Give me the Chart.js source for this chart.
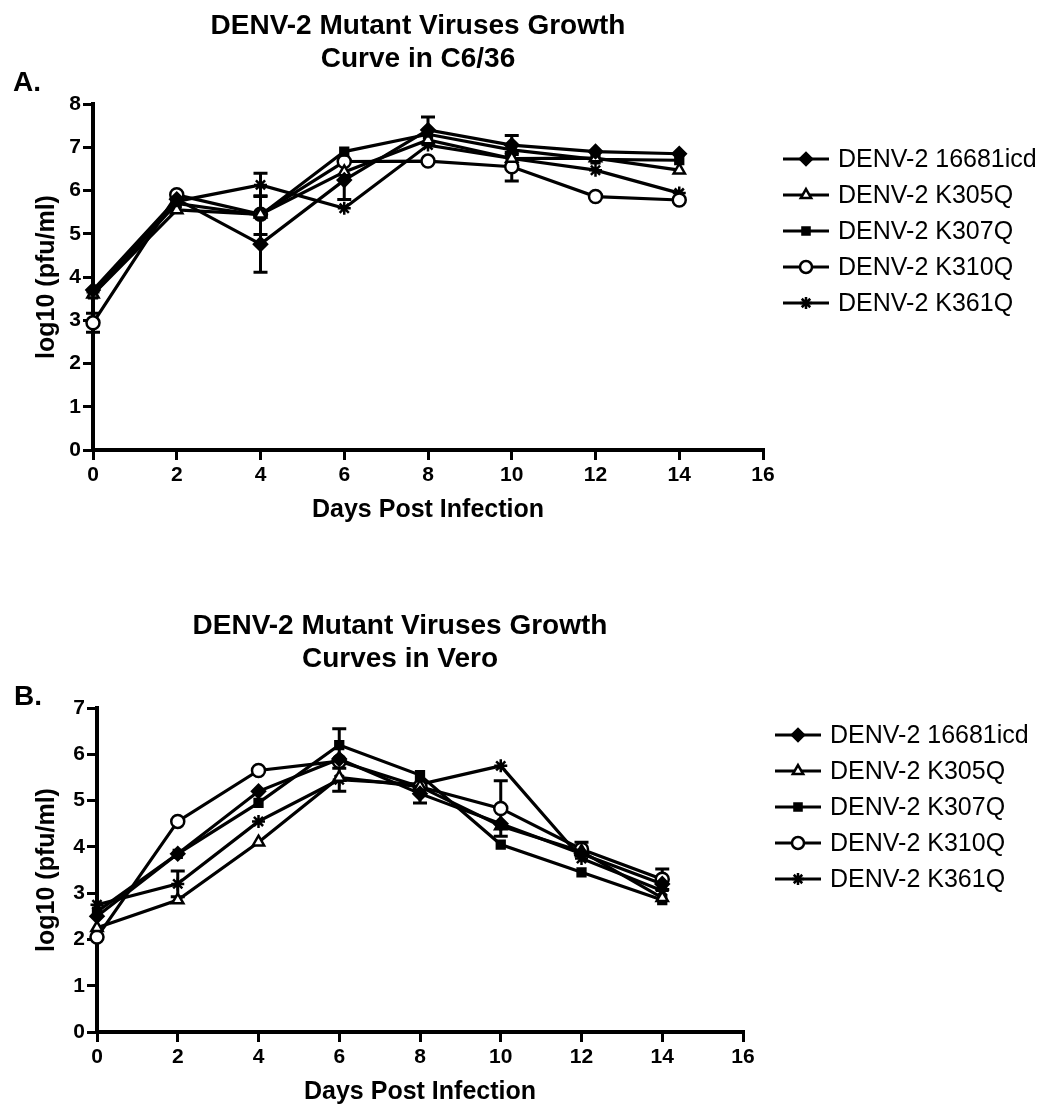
<!DOCTYPE html>
<html>
<head>
<meta charset="utf-8">
<script src="https://cdn.jsdelivr.net/npm/chart.js@4.4.0/dist/chart.umd.min.js"></script>
<style>
body { margin: 0; background: #fff; }
#page { position: relative; width: 1054px; height: 1112px; font-family: "Liberation Sans", Arial, sans-serif; color: #000; }
.box { position: absolute; left: 0; }
.title { position: absolute; width: 600px; font-weight: bold; font-size: 28px; line-height: 33px; text-align: center; z-index: 2; }
.panel { position: absolute; font-weight: bold; font-size: 28px; z-index: 2; }
</style>
</head>
<body>
<div id="page">
  <div class="box" style="top:0"><canvas id="chartA" width="1054" height="560"></canvas></div>
  <div class="box" style="top:560px"><canvas id="chartB" width="1054" height="552"></canvas></div>
  <div class="title" style="left:118px; top:8px">DENV-2 Mutant Viruses Growth<br>Curve in C6/36</div>
  <div class="panel" style="left:13px; top:66px">A.</div>
  <div class="title" style="left:100px; top:608px">DENV-2 Mutant Viruses Growth<br>Curves in Vero</div>
  <div class="panel" style="left:14px; top:680px">B.</div>
</div>
<script>
// x values (days post infection)
const days = [0, 2, 4, 6, 8, 10, 12, 14];
const seriesNames = ['DENV-2 16681icd', 'DENV-2 K305Q', 'DENV-2 K307Q', 'DENV-2 K310Q', 'DENV-2 K361Q'];
const markerStyles = ['rectRot', 'triangle', 'rect', 'circle', 'star'];
const markerFills = ['#000', '#fff', '#000', '#fff', '#000'];

// panel A - C6/36, log10 pfu/ml
const c636_16681icd = [3.7, 5.8, 4.76, 6.24, 7.4, 7.05, 6.9, 6.85];
const c636_K305Q = [3.6, 5.55, 5.45, 6.43, 7.17, 6.74, 6.75, 6.47];
const c636_K307Q = [3.6, 5.7, 5.43, 6.9, 7.3, 6.94, 6.72, 6.7];
const c636_K310Q = [2.94, 5.9, 5.45, 6.67, 6.68, 6.55, 5.86, 5.78];
const c636_K361Q = [3.65, 5.75, 6.13, 5.59, 7.05, 6.74, 6.47, 5.94];
// error bars (0 = none drawn)
const c636Err_16681icd = [0, 0, 0.65, 0.45, 0.3, 0.22, 0, 0];
const c636Err_K305Q = [0, 0, 0, 0, 0, 0, 0, 0];
const c636Err_K307Q = [0, 0, 0.45, 0, 0, 0, 0, 0];
const c636Err_K310Q = [0.22, 0, 0, 0, 0, 0.33, 0, 0];
const c636Err_K361Q = [0, 0, 0.27, 0, 0, 0, 0, 0];

// panel B - Vero, log10 pfu/ml
const vero_16681icd = [2.5, 3.85, 5.2, 5.9, 5.15, 4.5, 3.85, 3.2];
const vero_K305Q = [2.25, 2.85, 4.1, 5.5, 5.3, 4.45, 3.9, 2.9];
const vero_K307Q = [2.6, 3.85, 4.95, 6.2, 5.55, 4.05, 3.45, 2.85];
const vero_K310Q = [2.05, 4.55, 5.65, 5.85, 5.3, 4.83, 3.95, 3.3];
const vero_K361Q = [2.75, 3.2, 4.55, 5.45, 5.35, 5.75, 3.75, 3.05];
const veroErr_16681icd = [0, 0, 0, 0, 0.2, 0, 0, 0];
const veroErr_K305Q = [0, 0, 0, 0, 0, 0, 0, 0];
const veroErr_K307Q = [0, 0, 0, 0.35, 0, 0, 0, 0];
const veroErr_K310Q = [0, 0, 0, 0, 0, 0.6, 0.15, 0.22];
const veroErr_K361Q = [0, 0.28, 0, 0.25, 0, 0, 0, 0];

const FONT = '"Liberation Sans", Arial, sans-serif';

//error bar plugin, draws before the markers
const errorBars = {
  id: 'errorBars',
  beforeDatasetsDraw(chart) {
    const ctx = chart.ctx;
    const xs = chart.scales.x, ys = chart.scales.y;
    ctx.save();
    ctx.strokeStyle = '#000';
    ctx.lineWidth = 3;
    chart.data.datasets.forEach(ds => {
      ds.data.forEach((p, i) => {
        const e = ds.errors[i];
        if (!e) return;
        const x = xs.getPixelForValue(p.x);
        const y1 = ys.getPixelForValue(p.y + e);
        const y2 = ys.getPixelForValue(p.y - e);
        ctx.beginPath();
        ctx.moveTo(x, y1); ctx.lineTo(x, y2);
        ctx.moveTo(x - 7, y1); ctx.lineTo(x + 7, y1);
        ctx.moveTo(x - 7, y2); ctx.lineTo(x + 7, y2);
        ctx.stroke();
      });
    });
    ctx.restore();
  }
};

//legend at the right side: line + marker + name
const sideLegend = {
  id: 'sideLegend',
  afterDraw(chart, args, opts) {
    const ctx = chart.ctx;
    ctx.save();
    chart.data.datasets.forEach((ds, i) => {
      const y = opts.top + i * opts.gap;
      ctx.strokeStyle = '#000';
      ctx.lineWidth = 3;
      ctx.beginPath();
      ctx.moveTo(opts.left, y); ctx.lineTo(opts.left + 46, y);
      ctx.stroke();
      ctx.fillStyle = ds.pointBackgroundColor;
      ctx.lineWidth = 2.5;
      Chart.helpers.drawPoint(ctx, {pointStyle: ds.pointStyle, radius: ds.pointRadius - 0.5, borderWidth: 2.5, rotation: 0}, opts.left + 23, y);
      ctx.fillStyle = '#000';
      ctx.font = '25px ' + FONT;
      ctx.textBaseline = 'middle';
      ctx.fillText(ds.label, opts.left + 55, y + 1);
    });
    ctx.restore();
  }
};

makeSets = function(valueLists, errLists) {
  return valueLists.map((vals, s) => ({
    label: seriesNames[s],
    data: days.map((d, i) => ({x: d, y: vals[i]})),
    errors: errLists[s],
    borderColor: '#000',
    borderWidth: 3.2,
    pointStyle: markerStyles[s],
    pointRadius: markerStyles[s] === 'rect' ? 5.5 : 6.5,
    pointBackgroundColor: markerFills[s],
    pointBorderColor: '#000',
    pointBorderWidth: 2.5,
    clip: false
  }));
};

makeConfig = function(sets, yMax, area, legendPos) {
  return {
    type: 'line',
    data: {datasets: sets},
    options: {
      responsive: false,
      animation: false,
      events: [],
      layout: {padding: {left: 0, top: area.top, right: area.right, bottom: area.bottom}},
      plugins: {legend: {display: false}, tooltip: {enabled: false}, sideLegend: legendPos},
      scales: {
        x: {
          type: 'linear', min: 0, max: 16,
          ticks: {stepSize: 2, color: '#000', padding: 3, font: {family: FONT, size: 21, weight: 'bold'}},
          grid: {drawOnChartArea: false, drawTicks: true, tickLength: 10, color: '#000', lineWidth: 3},
          border: {display: true, color: '#000', width: 4},
          title: {display: true, text: 'Days Post Infection', color: '#000', padding: {top: 0, bottom: 5},
                  font: {family: FONT, size: 25, weight: 'bold'}},
          afterFit: s => { s.height = area.xh; }
        },
        y: {
          min: 0, max: yMax,
          ticks: {stepSize: 1, color: '#000', padding: 2, font: {family: FONT, size: 21, weight: 'bold'}},
          grid: {drawOnChartArea: false, drawTicks: true, tickLength: 10, color: '#000', lineWidth: 3},
          border: {display: true, color: '#000', width: 4},
          title: {display: true, text: 'log10 (pfu/ml)', color: '#000', padding: {top: 32, bottom: 0},
                  font: {family: FONT, size: 25, weight: 'bold'}},
          afterFit: s => { s.width = area.left; }
        }
      }
    },
    plugins: [errorBars, sideLegend]
  };
};

const setsA = makeSets(
  [c636_16681icd, c636_K305Q, c636_K307Q, c636_K310Q, c636_K361Q],
  [c636Err_16681icd, c636Err_K305Q, c636Err_K307Q, c636Err_K310Q, c636Err_K361Q]);
const setsB = makeSets(
  [vero_16681icd, vero_K305Q, vero_K307Q, vero_K310Q, vero_K361Q],
  [veroErr_16681icd, veroErr_K305Q, veroErr_K307Q, veroErr_K310Q, veroErr_K361Q]);

//render A: plot area 93..763 x 104..450
const ChartA = new Chart(document.getElementById('chartA'),
  makeConfig(setsA, 8, {left: 93, top: 104, right: 291, bottom: 30, xh: 80}, {left: 783, top: 159, gap: 36}));

//render B: plot area 97..743 x 708..1032 (canvas starts at 560)
const ChartB = new Chart(document.getElementById('chartB'),
  makeConfig(setsB, 7, {left: 97, top: 148, right: 311, bottom: 0, xh: 80}, {left: 775, top: 175, gap: 36}));
</script>
</body>
</html>
